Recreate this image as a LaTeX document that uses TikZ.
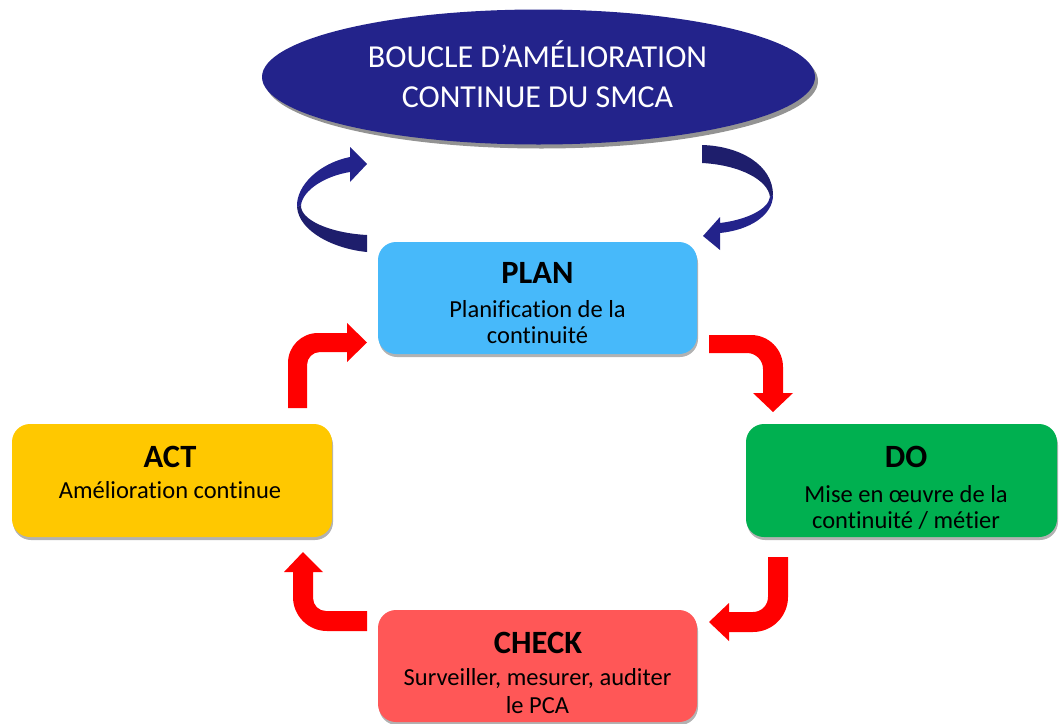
\documentclass[tikz,border=0pt]{standalone}
\usepackage{fontspec}
\setmainfont{Carlito}[Ligatures=CommonOff]
\usetikzlibrary{shapes.geometric,shadows}
\definecolor{navy}{RGB}{35,35,139}
\definecolor{navydark}{RGB}{30,30,108}
\definecolor{planblue}{RGB}{71,185,250}
\definecolor{dogreen}{RGB}{0,176,80}
\definecolor{actyellow}{RGB}{255,200,0}
\definecolor{checkred}{RGB}{255,87,87}
\definecolor{arrowred}{RGB}{255,0,0}
\begin{document}
\begin{tikzpicture}[x=1pt,y=-1pt,
  box/.style={rectangle, rounded corners=18pt, inner sep=0pt, draw=none,
    drop shadow={shadow xshift=1pt,shadow yshift=-3pt,opacity=0.3,fill=black}},
  ttl/.style={anchor=base, text=black, inner sep=0pt, font=\fontsize{32.5}{32.5}\selectfont\bfseries},
  body/.style={anchor=base, text=black, inner sep=0pt, font=\fontsize{24.5}{27}\selectfont},
  toptxt/.style={anchor=base, text=white, inner sep=0pt, font=\fontsize{32}{32}\selectfont},
  redarrow/.style={fill=arrowred, draw=none},
  navyhead/.style={fill=navy, draw=none},
  navytail/.style={fill=navydark, draw=none}]
\useasboundingbox (0,0) rectangle (1059,723);

% title ellipse
\node[ellipse, fill=navy, minimum width=553pt, minimum height=135pt, inner sep=0pt,
  drop shadow={shadow xshift=3pt,shadow yshift=-4pt,opacity=0.85,fill=gray}] (loop) at (538.5,77) {};
\node[toptxt] (loop1) at (537.5,67) {BOUCLE D’AMÉLIORATION};
\node[toptxt] (loop2) at (537.5,107) {CONTINUE DU SMCA};

% boxes
\node[box, fill=planblue, minimum width=319pt, minimum height=112pt] (plan) at (537.5,298) {};
\node[box, fill=dogreen, minimum width=311pt, minimum height=113pt] (do) at (901.5,480.5) {};
\node[box, fill=actyellow, minimum width=320pt, minimum height=113pt] (act) at (172,480.5) {};
\node[box, fill=checkred, minimum width=319pt, minimum height=112pt] (check) at (537.5,666) {};

\node[ttl] (plant) at (537.5,283) {PLAN};
\node[body] (planb1) at (537.5,317) {Planification de la};
\node[body] (planb2) at (537.5,343) {continuité};

\node[ttl] (dot) at (906,467) {DO};
\node[body] (dob1) at (906,502) {Mise en œuvre de la};
\node[body] (dob2) at (906,528) {continuité / métier};

\node[ttl] (actt) at (170,467) {ACT};
\node[body] (actb1) at (170,498) {Amélioration continue};

\node[ttl] (checkt) at (538,653) {CHECK};
\node[body] (checkb1) at (537.5,685) {Surveiller, mesurer, auditer};
\node[body] (checkb2) at (537.5,713) {le PCA};

% red block arrows
% ACT -> PLAN
\fill[redarrow] (288,408) -- (288,363) .. controls (288,346.4) and (301.4,333) .. (318,333)
  -- (347,333) -- (347,323) -- (367,342.5) -- (347,362) -- (347,352) -- (320,352)
  .. controls (312.8,352) and (307,357.8) .. (307,365) -- (307,408) -- cycle;
% PLAN -> DO
\fill[redarrow] (709,335) -- (751,335) .. controls (768.7,335) and (783,349.3) .. (783,367)
  -- (783,393) -- (793,393) -- (773,412) -- (753,393) -- (763,393) -- (763,369)
  .. controls (763,360.2) and (755.8,353) .. (747,353) -- (709,353) -- cycle;
% DO -> CHECK
\fill[redarrow] (768,557) -- (788,557) -- (788,597) .. controls (788,616.3) and (772.3,632) .. (753,632)
  -- (729,632) -- (729,641) -- (709,622) -- (729,603) -- (729,612) -- (753,612)
  .. controls (761.3,612) and (768,605.3) .. (768,597) -- cycle;
% CHECK -> ACT
\fill[redarrow] (367,611) -- (326,611) .. controls (318.8,611) and (313,605.2) .. (313,598)
  -- (313,572) -- (323,572) -- (303,552) -- (284,572) -- (293,572) -- (293,597)
  .. controls (293,615.8) and (308.2,631) .. (327,631) -- (367,631) -- cycle;

% navy curved arrows
% left
\fill[navytail] (367,252) .. controls (335,249) and (299,232) .. (297,207) -- (301,205)
  .. controls (300,220) and (330,233) .. (367,235) -- cycle;
\fill[navyhead] (297,207) .. controls (296,185) and (320,163) .. (350,157) -- (350,147)
  -- (367,164) -- (350,182) -- (350,172) .. controls (325,176) and (303,190) .. (301,205) -- cycle;
% right
\fill[navytail] (702,145) .. controls (740,146) and (773,165) .. (773,195) -- (770,197)
  .. controls (768,180) and (740,165) .. (702,163) -- cycle;
\fill[navyhead] (773,195) .. controls (773,215) and (750,230) .. (720,233) -- (720,250)
  -- (703,236) -- (720,217) -- (720,223) .. controls (745,220) and (768,210) .. (770,197) -- cycle;
\end{tikzpicture}
\end{document}
